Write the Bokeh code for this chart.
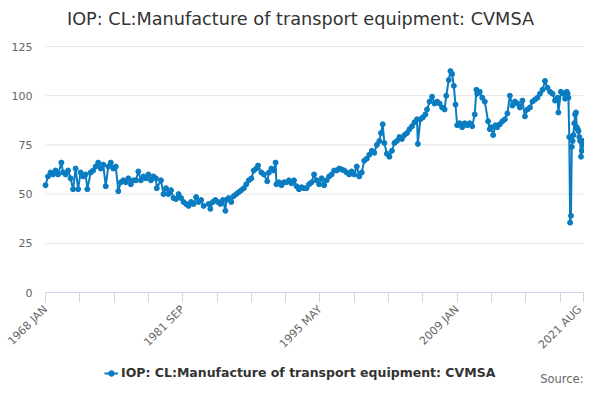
from math import pi

from bokeh.plotting import figure
from bokeh.models import FixedTicker, Legend, LegendItem, Label, Range1d
from bokeh.embed import file_html
from bokeh.resources import INLINE

# Series: IOP, CL: Manufacture of transport equipment, CVMSA
dates = [
    "1968-01", "1968-04", "1968-07", "1968-10",
    "1969-01", "1969-04", "1969-08", "1969-10",
    "1970-01", "1970-04", "1970-07", "1970-10",
    "1971-01", "1971-04", "1971-07", "1971-10",
    "1972-01", "1972-03", "1972-07", "1972-10",
    "1973-01", "1973-04", "1973-07", "1973-10",
    "1974-01", "1974-04", "1974-07", "1974-10",
    "1975-01", "1975-04", "1975-07", "1975-10",
    "1976-01", "1976-04", "1976-07", "1976-10",
    "1977-01", "1977-04", "1977-07", "1977-10",
    "1978-01", "1978-04", "1978-07", "1978-10",
    "1979-01", "1979-02", "1979-07", "1979-10",
    "1980-01", "1980-04", "1980-07", "1980-10",
    "1981-01", "1981-04", "1981-07", "1981-10",
    "1982-01", "1982-04", "1982-07", "1982-10",
    "1983-01", "1983-04", "1983-07", "1983-10",
    "1984-04", "1984-06", "1984-09", "1984-12",
    "1985-03", "1985-06", "1985-09", "1985-12",
    "1986-01", "1986-04", "1986-07", "1986-10",
    "1987-01", "1987-04", "1987-07", "1987-10",
    "1988-01", "1988-04", "1988-07", "1988-10",
    "1989-01", "1989-03", "1989-07", "1989-10",
    "1990-02", "1990-04", "1990-07", "1990-10", "1990-12",
    "1991-01", "1991-04", "1991-07", "1991-10",
    "1992-01", "1992-04", "1992-07", "1992-10",
    "1993-01", "1993-04", "1993-07", "1993-10",
    "1994-01", "1994-04", "1994-07", "1994-10",
    "1995-01", "1995-04", "1995-07", "1995-10",
    "1996-01", "1996-04", "1996-07", "1996-10",
    "1997-01", "1997-04", "1997-07", "1997-10",
    "1998-01", "1998-04", "1998-07", "1998-10",
    "1999-01", "1999-04", "1999-07", "1999-10",
    "2000-01", "2000-04", "2000-07", "2000-10",
    "2001-01", "2001-04", "2001-06", "2001-08", "2001-10",
    "2002-01", "2002-04", "2002-07", "2002-10",
    "2003-01", "2003-04", "2003-07", "2003-10",
    "2004-01", "2004-04", "2004-07", "2004-10",
    "2005-01", "2005-02", "2005-05", "2005-08", "2005-11",
    "2006-01", "2006-04", "2006-07", "2006-10",
    "2007-01", "2007-04", "2007-07", "2007-10", "2007-12",
    "2008-03", "2008-05", "2008-07", "2008-09", "2008-11",
    "2009-01", "2009-04", "2009-07", "2009-10",
    "2010-01", "2010-04", "2010-07", "2010-10", "2010-12",
    "2011-01", "2011-04", "2011-07", "2011-10",
    "2012-02", "2012-04", "2012-06", "2012-08", "2012-11",
    "2013-01", "2013-04", "2013-07", "2013-10",
    "2014-01", "2014-04", "2014-07", "2014-10",
    "2015-01", "2015-04", "2015-07", "2015-10",
    "2016-01", "2016-04", "2016-07", "2016-10",
    "2017-01", "2017-04", "2017-07", "2017-10",
    "2018-01", "2018-04", "2018-07", "2018-10",
    "2019-01", "2019-02", "2019-05", "2019-08", "2019-10", "2019-12",
    "2020-01", "2020-02", "2020-03", "2020-04", "2020-05", "2020-06",
    "2020-07", "2020-08", "2020-09", "2020-10", "2020-11", "2020-12",
    "2021-01", "2021-02", "2021-03", "2021-04", "2021-05", "2021-06",
    "2021-07", "2021-08",
]
values = [
    54.5, 59, 61, 60,
    62, 60, 66, 61,
    60, 62, 58, 52.5,
    63, 52.5, 61, 59,
    60, 52.5, 61, 62,
    64, 66, 63, 65,
    54, 64, 66, 63,
    64, 51.5, 56, 57,
    56, 58, 55, 57,
    57, 61.5, 57, 59,
    58, 60, 57, 59,
    58, 53, 57, 50,
    53, 50, 52, 48,
    47.5, 50, 48, 46,
    45, 44, 46, 45,
    48.5, 46, 47, 44,
    45, 42.5, 46, 47,
    46, 45, 47, 41.5,
    47, 48, 46, 49,
    50, 51, 52, 53,
    55, 57, 58, 62,
    63, 64.5, 61, 60,
    56.5, 61, 63, 62, 66,
    55, 56, 54.5, 56,
    56, 57, 55.5, 57,
    54, 52.5, 53.5, 53,
    53, 55, 56, 60,
    57, 55, 58, 54.5,
    57, 59, 60, 62,
    62, 63, 62.5, 62,
    61, 60, 61.5, 60,
    64, 59, 61, 67,
    68, 70, 72, 71,
    75, 77, 81, 85.5, 76,
    70.5, 69, 72, 76,
    77, 79, 78, 80,
    81, 83, 84.5, 86.5,
    88, 75.5, 88, 89, 90.5,
    93, 97, 99.5, 96,
    97, 96, 94, 93, 100,
    108, 112.5, 111, 105, 95.5,
    85, 86, 84, 86,
    85, 86, 84.5, 90.5, 103,
    101, 102, 99, 97,
    87, 83, 84, 80, 85,
    84, 85.5, 87, 88,
    91, 100, 95, 97,
    96, 94, 97.5, 89.5,
    93, 94, 97, 98,
    99, 101, 103, 107.5,
    104, 102, 101, 97.5,
    99, 91.5, 102, 101, 98.5, 102,
    101, 99, 79, 35.5, 39, 74,
    77, 80, 86, 90.5, 91.5, 84,
    83, 82, 79, 77, 69, 72,
    75, 77,
]

month_names = ["JAN", "FEB", "MAR", "APR", "MAY", "JUN",
               "JUL", "AUG", "SEP", "OCT", "NOV", "DEC"]
x_ticks = [0, 41, 82, 123, 164, 205, 246, 287, 328, 369, 410, 451,
           492, 533, 574, 615, 643]
labelled_ticks = [0, 164, 328, 492, 643]
y_ticks = [0, 25, 50, 75, 100, 125]

title_text = "IOP: CL:Manufacture of transport equipment: CVMSA"
blue = "#0a7cc2"

# month index counted from 1968 JAN
x = [(int(d[:4]) - 1968) * 12 + int(d[5:]) - 1 for d in dates]


def month_label(i):
    return "%d %s" % (1968 + i // 12, month_names[i % 12])


# The frame fills the whole canvas; both axes are pinned at 0 so that the
# rotated labels, legend, title and source note are all drawn inside it.
W, H = 584, 384
left, right = 45, 583      # pixels of x = 0 and x = last month
top, bottom = 46, 292      # pixels of y = 125 and y = 0
x_last = x_ticks[-1]
y_top = y_ticks[-1]
xs = x_last / (right - left)
ys = y_top / (bottom - top)

p = figure(
    width=W,
    height=H,
    x_range=Range1d(-left * xs, x_last + (W - right) * xs),
    y_range=Range1d(-(H - bottom) * ys, y_top + top * ys),
    output_backend="svg",
    toolbar_location=None,
    min_border=0,
)

p.outline_line_color = None
p.grid.grid_line_color = None

# horizontal grid lines over the axis extent only
grid_y = y_ticks[1:]
p.segment(x0=[x_ticks[0]] * len(grid_y), y0=grid_y,
          x1=[x_last] * len(grid_y), y1=grid_y,
          color="#e6e6e6", line_width=1)

# y axis: labels only
p.yaxis.fixed_location = 0
p.yaxis.bounds = (0, y_top)
p.yaxis.ticker = FixedTicker(ticks=y_ticks)
p.yaxis.axis_line_color = None
p.yaxis.major_tick_line_color = None
p.yaxis.minor_tick_line_color = None
p.yaxis.major_tick_out = 0
p.yaxis.major_label_standoff = 13
p.yaxis.major_label_text_font = "DejaVu Sans"
p.yaxis.major_label_text_font_size = "11px"
p.yaxis.major_label_text_color = "#666666"

# x axis: month ticks, a few labelled
p.xaxis.fixed_location = 0
p.xaxis.bounds = (0, x_last)
p.xaxis.ticker = FixedTicker(ticks=x_ticks)
p.xaxis.major_label_overrides = {
    t: (month_label(t) if t in labelled_ticks else "") for t in x_ticks
}
p.xaxis.axis_line_color = "#ccd6eb"
p.xaxis.major_tick_line_color = "#ccd6eb"
p.xaxis.minor_tick_line_color = None
p.xaxis.major_tick_in = 0
p.xaxis.major_tick_out = 10
p.xaxis.major_label_orientation = pi / 4
p.xaxis.major_label_text_font = "DejaVu Sans"
p.xaxis.major_label_text_font_size = "11px"
p.xaxis.major_label_text_color = "#666666"

line = p.line(x, values, color=blue, line_width=2)
dots = p.scatter(x, values, size=5, color=blue)

title = Label(
    x=300, y=H - 18, x_units="screen", y_units="screen",
    text=title_text,
    text_align="center", text_baseline="middle",
    text_font="DejaVu Sans", text_font_size="17.7px",
    text_color="#333333",
)
p.add_layout(title)

legend = Legend(
    items=[LegendItem(label=title_text, renderers=[line, dots])],
    location=(104, 4),
    orientation="horizontal",
    border_line_color=None,
    background_fill_alpha=0,
    label_text_font="DejaVu Sans",
    label_text_font_style="bold",
    label_text_font_size="12.5px",
    label_text_color="#333333",
    glyph_width=14,
    glyph_height=14,
    label_height=14,
    label_standoff=3,
    padding=0,
    margin=0,
)
p.add_layout(legend)

source = Label(
    x=583, y=6, x_units="screen", y_units="screen",
    text="Source:",
    text_align="right", text_baseline="middle",
    text_font="DejaVu Sans", text_font_size="11.5px",
    text_color="#666666",
)
p.add_layout(source)

open("out.html", "w").write(file_html(p, INLINE))
